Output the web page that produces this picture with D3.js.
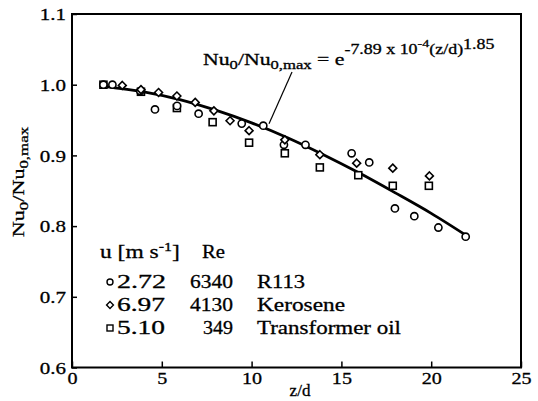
<!DOCTYPE html>
<html>
<head>
<meta charset="utf-8">
<script src="https://cdn.jsdelivr.net/npm/d3@7"></script>
<style>
body { margin: 0; background: #fff; }
svg text { font-family: "Liberation Serif", "Times New Roman", serif; fill: #000; stroke: #000; stroke-width: 0.3px; }
</style>
</head>
<body>
<svg id="chart"></svg>
<script>
const width = 538, height = 401
const margin = {top: 14, right: 17, bottom: 33.5, left: 72}

// measured points, [z/d, Nu0/Nu0,max]
const r113 = [[1.75,1.0],[2.25,1.0],[3.8,0.991],[4.62,0.965],[5.85,0.97],[7.05,0.959],[9.45,0.945],
  [10.65,0.942],[11.8,0.915],[13.0,0.915],[15.57,0.903],[16.55,0.89],[17.98,0.825],[19.06,0.814],
  [20.4,0.798],[21.92,0.785]]
const kerosene = [[2.8,0.999],[3.84,0.993],[4.82,0.989],[5.84,0.984],[6.86,0.975],[7.9,0.963],
  [8.8,0.949],[9.86,0.935],[11.85,0.922],[13.8,0.901],[15.85,0.889],[17.86,0.882],[19.9,0.871]]
const transformerOil = [[1.75,1.0],[3.84,0.99],[5.84,0.967],[7.83,0.947],[9.86,0.918],[11.85,0.903],
  [13.8,0.883],[15.94,0.872],[17.86,0.857],[19.87,0.857]]

// correlation line as drawn
const fitZ = [1.8, 2, 4, 6, 8, 10, 12, 14, 16, 18, 20, 22]
const fitNu = [0.998, 0.997, 0.990, 0.979, 0.964, 0.946, 0.925, 0.901, 0.875, 0.847, 0.818, 0.786]

const xTicks = [0, 5, 10, 15, 20, 25]
const yTicks = [0.6, 0.7, 0.8, 0.9, 1.0, 1.1]

const legendU = ["2.72", "6.97", "5.10"]
const legendRe = ["6340", "4130", "349"]
const legendFluid = ["R113", "Kerosene", "Transformer oil"]

const svg = d3.select("#chart")
  .attr("width", width)
  .attr("height", height)

const x = d3.scaleLinear().domain([0, 25]).range([margin.left, width - margin.right])
const y = d3.scaleLinear().domain([0.6, 1.1]).range([height - margin.bottom, margin.top])

// axes
const yAxis = svg.append("g")
  .attr("transform", `translate(${margin.left},0)`)
  .call(d3.axisLeft(y).tickValues(yTicks).tickFormat(d3.format(".1f")).tickSize(-5))
yAxis.select(".domain").remove()
yAxis.selectAll("line").attr("stroke-width", 1.5)
yAxis.selectAll("text")
  .attr("font-size", 17.5)
  .attr("font-family", null)
  .attr("x", -6 / 1.2)
  .attr("transform", "scale(1.2,1)")

const xAxis = svg.append("g")
  .attr("transform", `translate(0,${height - margin.bottom})`)
  .call(d3.axisBottom(x).tickValues(xTicks).tickSize(-6))
xAxis.select(".domain").remove()
xAxis.selectAll("line").attr("stroke-width", 1.5)
xAxis.selectAll("text")
  .attr("font-size", 17.5)
  .attr("font-family", null)
  .attr("y", 4)
  .attr("transform", "scale(1.15,1)")

// frame
svg.append("rect")
  .attr("x", x(0)).attr("y", y(1.1))
  .attr("width", x(25) - x(0)).attr("height", y(0.6) - y(1.1))
  .attr("fill", "none").attr("stroke", "#000").attr("stroke-width", 2)

// fit line
const line = d3.line()
  .x((d, i) => x(fitZ[i]))
  .y(d => y(d))
  .curve(d3.curveCatmullRom)
svg.append("path")
  .datum(fitNu)
  .attr("d", line)
  .attr("fill", "none").attr("stroke", "#000").attr("stroke-width", 2.8)

// markers
const mk = svg.append("g").attr("fill", "#fff").attr("stroke", "#000").attr("stroke-width", 1.6)
mk.selectAll(".sq").data(transformerOil).join("rect")
  .attr("x", d => x(d[0]) - 3.5).attr("y", d => y(d[1]) - 3.5)
  .attr("width", 7).attr("height", 7)
mk.selectAll(".ci").data(r113).join("circle")
  .attr("cx", d => x(d[0])).attr("cy", d => y(d[1])).attr("r", 3.6)
const diamond = d3.symbol().type(d3.symbolDiamond2).size(40)
mk.selectAll(".di").data(kerosene).join("path")
  .attr("d", diamond)
  .attr("transform", d => `translate(${x(d[0])},${y(d[1])})`)

// leader line for the equation
svg.append("line")
  .attr("x1", x(10.97)).attr("y1", y(0.9446))
  .attr("x2", x(12.25)).attr("y2", y(1.018))
  .attr("stroke", "#000").attr("stroke-width", 1.2)

// equation
const eq = svg.append("g").attr("transform", "translate(203,65) scale(1.28,1)")
const et = eq.append("text").attr("font-size", 17)
et.append("tspan").text("Nu")
et.append("tspan").attr("font-size", 13).attr("dy", 4).text("0")
et.append("tspan").attr("dy", -4).text("/Nu")
et.append("tspan").attr("font-size", 13).attr("dy", 4).text("0,max")
et.append("tspan").attr("dy", -4).text(" = e")
et.append("tspan").attr("font-size", 14).attr("dy", -11).text("-7.89 x 10")
et.append("tspan").attr("font-size", 11).attr("dy", -7).text("-4")
et.append("tspan").attr("font-size", 14).attr("dy", 7).text("(z/d)")
et.append("tspan").attr("font-size", 14).attr("dy", -5).text("1.85")

// y label
const yl = svg.append("g").attr("transform", "translate(24,182) rotate(-90) scale(1.3,1)")
const yt = yl.append("text").attr("font-size", 17).attr("text-anchor", "middle")
yt.append("tspan").text("Nu")
yt.append("tspan").attr("font-size", 13).attr("dy", 4).text("0")
yt.append("tspan").attr("dy", -4).text("/Nu")
yt.append("tspan").attr("font-size", 13).attr("dy", 4).text("0,max")

// x label
svg.append("text")
  .attr("x", 300).attr("y", 396)
  .attr("text-anchor", "middle")
  .attr("font-size", 17)
  .text("z/d")

// legend
const lg = svg.append("g")
const hd = lg.append("g").attr("transform", "translate(100,258) scale(1.27,1)")
  .append("text").attr("font-size", 18.5)
hd.append("tspan").text("u [m s")
hd.append("tspan").attr("font-size", 12.5).attr("dy", -7).text("-1")
hd.append("tspan").attr("dy", 7).text("]")
lg.append("text").attr("x", 202).attr("y", 258).attr("font-size", 18.5)
  .attr("textLength", 23).attr("lengthAdjust", "spacingAndGlyphs").text("Re")

const rowY = [288, 311, 334]
const uLen = [49, 48, 48]
const reX = [190, 190, 203], reLen = [43, 43, 30]
const flLen = [48, 88, 144]
legendU.forEach((u, i) => {
  lg.append("text").attr("x", 117).attr("y", rowY[i]).attr("font-size", 18.5)
    .attr("textLength", uLen[i]).attr("lengthAdjust", "spacingAndGlyphs").text(u)
  lg.append("text").attr("x", reX[i]).attr("y", rowY[i]).attr("font-size", 18.5)
    .attr("textLength", reLen[i]).attr("lengthAdjust", "spacingAndGlyphs").text(legendRe[i])
  lg.append("text").attr("x", 257).attr("y", rowY[i]).attr("font-size", 18.5)
    .attr("textLength", flLen[i]).attr("lengthAdjust", "spacingAndGlyphs").text(legendFluid[i])
})
const lm = lg.append("g").attr("fill", "#fff").attr("stroke", "#000").attr("stroke-width", 1.4)
lm.append("circle").attr("cx", 110).attr("cy", rowY[0] - 6).attr("r", 3)
lm.append("path").attr("d", d3.symbol().type(d3.symbolDiamond2).size(30))
  .attr("transform", `translate(110,${rowY[1] - 6})`)
lm.append("rect").attr("x", 107).attr("y", rowY[2] - 9).attr("width", 6).attr("height", 6)
</script>
</body>
</html>
